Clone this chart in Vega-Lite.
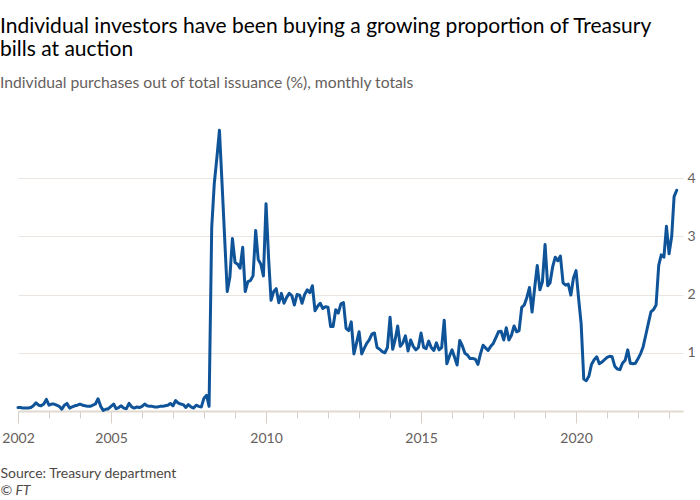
{
  "$schema": "https://vega.github.io/schema/vega-lite/v6.json",
  "width": 665,
  "height": 285,
  "autosize": {"type": "none"},
  "padding": {"left": 18, "top": 126, "right": 17, "bottom": 89},
  "background": "#ffffff",
  "title": {
    "text": ["Individual investors have been buying a growing proportion of Treasury", "bills at auction"],
    "subtitle": "Individual purchases out of total issuance (%), monthly totals",
    "anchor": "start",
    "frame": "group",
    "dx": -18,
    "offset": 35,
    "font": "Lato",
    "fontSize": 21,
    "fontWeight": "normal",
    "color": "#000000",
    "lineHeight": 23,
    "subtitleFont": "Lato",
    "subtitleFontSize": 15.7,
    "subtitleColor": "#66605c",
    "subtitlePadding": 16
  },
  "config": {"view": {"stroke": null}},
  "data": {
    "values": [
      {"date": "2002-01-01", "value": 0.06}, {"date": "2002-02-01", "value": 0.06}, {"date": "2002-03-01", "value": 0.05}, {"date": "2002-04-01", "value": 0.05}, {"date": "2002-05-01", "value": 0.05}, {"date": "2002-06-01", "value": 0.06}, {"date": "2002-07-01", "value": 0.09}, {"date": "2002-08-01", "value": 0.14}, {"date": "2002-09-01", "value": 0.10}, {"date": "2002-10-01", "value": 0.09}, {"date": "2002-11-01", "value": 0.12}, {"date": "2002-12-01", "value": 0.20},
      {"date": "2003-01-01", "value": 0.10}, {"date": "2003-02-01", "value": 0.12}, {"date": "2003-03-01", "value": 0.12}, {"date": "2003-04-01", "value": 0.10}, {"date": "2003-05-01", "value": 0.08}, {"date": "2003-06-01", "value": 0.03}, {"date": "2003-07-01", "value": 0.10}, {"date": "2003-08-01", "value": 0.13}, {"date": "2003-09-01", "value": 0.05}, {"date": "2003-10-01", "value": 0.07}, {"date": "2003-11-01", "value": 0.09}, {"date": "2003-12-01", "value": 0.10},
      {"date": "2004-01-01", "value": 0.12}, {"date": "2004-02-01", "value": 0.10}, {"date": "2004-03-01", "value": 0.09}, {"date": "2004-04-01", "value": 0.08}, {"date": "2004-05-01", "value": 0.08}, {"date": "2004-06-01", "value": 0.10}, {"date": "2004-07-01", "value": 0.12}, {"date": "2004-08-01", "value": 0.21}, {"date": "2004-09-01", "value": 0.08}, {"date": "2004-10-01", "value": 0.01}, {"date": "2004-11-01", "value": 0.03}, {"date": "2004-12-01", "value": 0.04},
      {"date": "2005-01-01", "value": 0.08}, {"date": "2005-02-01", "value": 0.12}, {"date": "2005-03-01", "value": 0.04}, {"date": "2005-04-01", "value": 0.06}, {"date": "2005-05-01", "value": 0.09}, {"date": "2005-06-01", "value": 0.05}, {"date": "2005-07-01", "value": 0.04}, {"date": "2005-08-01", "value": 0.13}, {"date": "2005-09-01", "value": 0.07}, {"date": "2005-10-01", "value": 0.05}, {"date": "2005-11-01", "value": 0.07}, {"date": "2005-12-01", "value": 0.06},
      {"date": "2006-01-01", "value": 0.08}, {"date": "2006-02-01", "value": 0.12}, {"date": "2006-03-01", "value": 0.09}, {"date": "2006-04-01", "value": 0.08}, {"date": "2006-05-01", "value": 0.08}, {"date": "2006-06-01", "value": 0.07}, {"date": "2006-07-01", "value": 0.07}, {"date": "2006-08-01", "value": 0.08}, {"date": "2006-09-01", "value": 0.08}, {"date": "2006-10-01", "value": 0.09}, {"date": "2006-11-01", "value": 0.10}, {"date": "2006-12-01", "value": 0.13},
      {"date": "2007-01-01", "value": 0.09}, {"date": "2007-02-01", "value": 0.18}, {"date": "2007-03-01", "value": 0.14}, {"date": "2007-04-01", "value": 0.12}, {"date": "2007-05-01", "value": 0.11}, {"date": "2007-06-01", "value": 0.06}, {"date": "2007-07-01", "value": 0.11}, {"date": "2007-08-01", "value": 0.07}, {"date": "2007-09-01", "value": 0.05}, {"date": "2007-10-01", "value": 0.10}, {"date": "2007-11-01", "value": 0.08}, {"date": "2007-12-01", "value": 0.07},
      {"date": "2008-01-01", "value": 0.22}, {"date": "2008-02-01", "value": 0.27}, {"date": "2008-03-01", "value": 0.08}, {"date": "2008-04-01", "value": 3.15}, {"date": "2008-05-01", "value": 3.90}, {"date": "2008-06-01", "value": 4.35}, {"date": "2008-07-01", "value": 4.82}, {"date": "2008-08-01", "value": 3.90}, {"date": "2008-09-01", "value": 2.95}, {"date": "2008-10-01", "value": 2.05}, {"date": "2008-11-01", "value": 2.30}, {"date": "2008-12-01", "value": 2.96},
      {"date": "2009-01-01", "value": 2.55}, {"date": "2009-02-01", "value": 2.52}, {"date": "2009-03-01", "value": 2.45}, {"date": "2009-04-01", "value": 2.81}, {"date": "2009-05-01", "value": 2.05}, {"date": "2009-06-01", "value": 2.22}, {"date": "2009-07-01", "value": 2.24}, {"date": "2009-08-01", "value": 2.32}, {"date": "2009-09-01", "value": 3.10}, {"date": "2009-10-01", "value": 2.60}, {"date": "2009-11-01", "value": 2.52}, {"date": "2009-12-01", "value": 2.32},
      {"date": "2010-01-01", "value": 3.56}, {"date": "2010-02-01", "value": 2.60}, {"date": "2010-03-01", "value": 1.90}, {"date": "2010-04-01", "value": 2.05}, {"date": "2010-05-01", "value": 2.10}, {"date": "2010-06-01", "value": 1.86}, {"date": "2010-07-01", "value": 2.02}, {"date": "2010-08-01", "value": 1.85}, {"date": "2010-09-01", "value": 1.95}, {"date": "2010-10-01", "value": 2.02}, {"date": "2010-11-01", "value": 1.98}, {"date": "2010-12-01", "value": 1.82},
      {"date": "2011-01-01", "value": 2.00}, {"date": "2011-02-01", "value": 1.99}, {"date": "2011-03-01", "value": 1.85}, {"date": "2011-04-01", "value": 2.00}, {"date": "2011-05-01", "value": 2.08}, {"date": "2011-06-01", "value": 2.03}, {"date": "2011-07-01", "value": 2.15}, {"date": "2011-08-01", "value": 1.72}, {"date": "2011-09-01", "value": 1.80}, {"date": "2011-10-01", "value": 1.85}, {"date": "2011-11-01", "value": 1.76}, {"date": "2011-12-01", "value": 1.79},
      {"date": "2012-01-01", "value": 1.78}, {"date": "2012-02-01", "value": 1.45}, {"date": "2012-03-01", "value": 1.45}, {"date": "2012-04-01", "value": 1.74}, {"date": "2012-05-01", "value": 1.68}, {"date": "2012-06-01", "value": 1.84}, {"date": "2012-07-01", "value": 1.86}, {"date": "2012-08-01", "value": 1.42}, {"date": "2012-09-01", "value": 1.38}, {"date": "2012-10-01", "value": 1.53}, {"date": "2012-11-01", "value": 0.98}, {"date": "2012-12-01", "value": 1.16},
      {"date": "2013-01-01", "value": 1.36}, {"date": "2013-02-01", "value": 0.98}, {"date": "2013-03-01", "value": 1.07}, {"date": "2013-04-01", "value": 1.16}, {"date": "2013-05-01", "value": 1.22}, {"date": "2013-06-01", "value": 1.32}, {"date": "2013-07-01", "value": 1.34}, {"date": "2013-08-01", "value": 1.09}, {"date": "2013-09-01", "value": 1.06}, {"date": "2013-10-01", "value": 1.02}, {"date": "2013-11-01", "value": 1.00}, {"date": "2013-12-01", "value": 1.09},
      {"date": "2014-01-01", "value": 1.61}, {"date": "2014-02-01", "value": 1.06}, {"date": "2014-03-01", "value": 1.22}, {"date": "2014-04-01", "value": 1.46}, {"date": "2014-05-01", "value": 1.11}, {"date": "2014-06-01", "value": 1.17}, {"date": "2014-07-01", "value": 1.29}, {"date": "2014-08-01", "value": 1.03}, {"date": "2014-09-01", "value": 1.22}, {"date": "2014-10-01", "value": 1.11}, {"date": "2014-11-01", "value": 1.05}, {"date": "2014-12-01", "value": 1.09},
      {"date": "2015-01-01", "value": 1.34}, {"date": "2015-02-01", "value": 1.09}, {"date": "2015-03-01", "value": 1.07}, {"date": "2015-04-01", "value": 1.20}, {"date": "2015-05-01", "value": 1.09}, {"date": "2015-06-01", "value": 1.04}, {"date": "2015-07-01", "value": 1.17}, {"date": "2015-08-01", "value": 1.05}, {"date": "2015-09-01", "value": 1.09}, {"date": "2015-10-01", "value": 1.56}, {"date": "2015-11-01", "value": 0.81}, {"date": "2015-12-01", "value": 0.94},
      {"date": "2016-01-01", "value": 1.05}, {"date": "2016-02-01", "value": 0.92}, {"date": "2016-03-01", "value": 0.79}, {"date": "2016-04-01", "value": 1.21}, {"date": "2016-05-01", "value": 1.12}, {"date": "2016-06-01", "value": 0.99}, {"date": "2016-07-01", "value": 0.96}, {"date": "2016-08-01", "value": 0.90}, {"date": "2016-09-01", "value": 0.90}, {"date": "2016-10-01", "value": 0.89}, {"date": "2016-11-01", "value": 0.80}, {"date": "2016-12-01", "value": 0.98},
      {"date": "2017-01-01", "value": 1.13}, {"date": "2017-02-01", "value": 1.08}, {"date": "2017-03-01", "value": 1.04}, {"date": "2017-04-01", "value": 1.11}, {"date": "2017-05-01", "value": 1.16}, {"date": "2017-06-01", "value": 1.26}, {"date": "2017-07-01", "value": 1.36}, {"date": "2017-08-01", "value": 1.37}, {"date": "2017-09-01", "value": 1.22}, {"date": "2017-10-01", "value": 1.43}, {"date": "2017-11-01", "value": 1.22}, {"date": "2017-12-01", "value": 1.30},
      {"date": "2018-01-01", "value": 1.46}, {"date": "2018-02-01", "value": 1.36}, {"date": "2018-03-01", "value": 1.38}, {"date": "2018-04-01", "value": 1.78}, {"date": "2018-05-01", "value": 1.82}, {"date": "2018-06-01", "value": 1.95}, {"date": "2018-07-01", "value": 2.12}, {"date": "2018-08-01", "value": 1.70}, {"date": "2018-09-01", "value": 2.12}, {"date": "2018-10-01", "value": 2.50}, {"date": "2018-11-01", "value": 2.08}, {"date": "2018-12-01", "value": 2.22},
      {"date": "2019-01-01", "value": 2.86}, {"date": "2019-02-01", "value": 2.15}, {"date": "2019-03-01", "value": 2.20}, {"date": "2019-04-01", "value": 2.48}, {"date": "2019-05-01", "value": 2.64}, {"date": "2019-06-01", "value": 2.58}, {"date": "2019-07-01", "value": 2.66}, {"date": "2019-08-01", "value": 2.20}, {"date": "2019-09-01", "value": 2.16}, {"date": "2019-10-01", "value": 2.18}, {"date": "2019-11-01", "value": 1.99}, {"date": "2019-12-01", "value": 2.28},
      {"date": "2020-01-01", "value": 2.41}, {"date": "2020-02-01", "value": 1.92}, {"date": "2020-03-01", "value": 1.50}, {"date": "2020-04-01", "value": 0.55}, {"date": "2020-05-01", "value": 0.52}, {"date": "2020-06-01", "value": 0.60}, {"date": "2020-07-01", "value": 0.80}, {"date": "2020-08-01", "value": 0.88}, {"date": "2020-09-01", "value": 0.93}, {"date": "2020-10-01", "value": 0.81}, {"date": "2020-11-01", "value": 0.84}, {"date": "2020-12-01", "value": 0.88},
      {"date": "2021-01-01", "value": 0.92}, {"date": "2021-02-01", "value": 0.94}, {"date": "2021-03-01", "value": 0.93}, {"date": "2021-04-01", "value": 0.77}, {"date": "2021-05-01", "value": 0.72}, {"date": "2021-06-01", "value": 0.71}, {"date": "2021-07-01", "value": 0.82}, {"date": "2021-08-01", "value": 0.87}, {"date": "2021-09-01", "value": 1.05}, {"date": "2021-10-01", "value": 0.82}, {"date": "2021-11-01", "value": 0.81}, {"date": "2021-12-01", "value": 0.82},
      {"date": "2022-01-01", "value": 0.90}, {"date": "2022-02-01", "value": 0.99}, {"date": "2022-03-01", "value": 1.10}, {"date": "2022-04-01", "value": 1.30}, {"date": "2022-05-01", "value": 1.50}, {"date": "2022-06-01", "value": 1.70}, {"date": "2022-07-01", "value": 1.74}, {"date": "2022-08-01", "value": 1.82}, {"date": "2022-09-01", "value": 2.50}, {"date": "2022-10-01", "value": 2.68}, {"date": "2022-11-01", "value": 2.64}, {"date": "2022-12-01", "value": 3.17},
      {"date": "2023-01-01", "value": 2.70}, {"date": "2023-02-01", "value": 3.00}, {"date": "2023-03-01", "value": 3.68}, {"date": "2023-04-01", "value": 3.79}
    ]
  },
  "mark": {"type": "line", "color": "#0f5499", "strokeWidth": 3, "strokeJoin": "round", "strokeCap": "round"},
  "encoding": {
    "x": {
      "field": "date",
      "type": "temporal",
      "scale": {
        "type": "utc",
        "domain": [{"year": 2002, "month": 1, "date": 1, "utc": true}, {"year": 2023, "month": 6, "date": 14, "utc": true}]
      },
      "axis": {
        "values": [
          {"year": 2002, "utc": true}, {"year": 2003, "utc": true}, {"year": 2004, "utc": true}, {"year": 2005, "utc": true}, {"year": 2006, "utc": true}, {"year": 2007, "utc": true}, {"year": 2008, "utc": true}, {"year": 2009, "utc": true}, {"year": 2010, "utc": true}, {"year": 2011, "utc": true}, {"year": 2012, "utc": true}, {"year": 2013, "utc": true}, {"year": 2014, "utc": true}, {"year": 2015, "utc": true}, {"year": 2016, "utc": true}, {"year": 2017, "utc": true}, {"year": 2018, "utc": true}, {"year": 2019, "utc": true}, {"year": 2020, "utc": true}, {"year": 2021, "utc": true}, {"year": 2022, "utc": true}, {"year": 2023, "utc": true}
        ],
        "labelExpr": "indexof(['2002','2005','2010','2015','2020'], utcFormat(datum.value, '%Y')) >= 0 ? utcFormat(datum.value, '%Y') : ''",
        "tickSize": {"condition": {"test": "indexof([2002,2005,2010,2015,2020], utcyear(datum.value)) >= 0", "value": 12}, "value": 7},
        "tickColor": "#d8cec6",
        "tickWidth": 1,
        "domainColor": "#e2d9d1",
        "domainWidth": 2,
        "grid": false,
        "labelFlush": false,
        "labelOverlap": false,
        "labelFont": "Lato",
        "labelFontSize": 14,
        "labelColor": "#66605c",
        "labelPadding": 8,
        "title": "Source: Treasury department",
        "titleFont": "Lato",
        "titleFontSize": 14,
        "titleFontWeight": "normal",
        "titleColor": "#4d4845",
        "titleAnchor": "start",
        "titleAlign": "left",
        "titleBaseline": "middle",
        "titleX": -18,
        "titleY": 62
      }
    },
    "y": {
      "field": "value",
      "type": "quantitative",
      "scale": {"domain": [0, 4.893], "nice": false, "zero": true},
      "axis": {
        "orient": "right",
        "values": [1, 2, 3, 4],
        "domain": false,
        "ticks": false,
        "grid": true,
        "gridColor": "#ece5df",
        "gridWidth": 1,
        "labelFont": "Lato",
        "labelFontSize": 14,
        "labelColor": "#66605c",
        "labelPadding": 4,
        "title": "© FT",
        "titleAngle": 0,
        "titleX": -683,
        "titleY": 364,
        "titleAlign": "left",
        "titleBaseline": "middle",
        "titleFont": "Lato",
        "titleFontSize": 14,
        "titleFontStyle": "italic",
        "titleFontWeight": "normal",
        "titleColor": "#4d4845"
      }
    }
  }
}
